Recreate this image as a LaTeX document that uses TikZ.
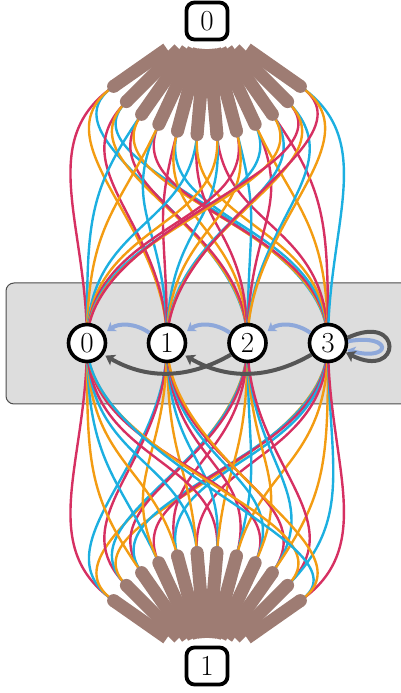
\documentclass[tikz,border=0pt]{standalone}
\usepackage{fontspec}
\usetikzlibrary{arrows.meta,calc}
\definecolor{cred}{RGB}{214,48,98}
\definecolor{cblue}{RGB}{28,175,224}
\definecolor{corange}{RGB}{243,156,18}
\definecolor{cbrown}{RGB}{158,124,115}
\definecolor{cdark}{RGB}{85,85,85}
\definecolor{clight}{RGB}{142,168,218}
\definecolor{cbox}{RGB}{221,221,221}
\colorlet{lc0}{cred}
\colorlet{lc1}{cblue}
\colorlet{lc2}{corange}
\pgfdeclarelayer{bg}
\pgfdeclarelayer{lines}
\pgfdeclarelayer{fan}
\pgfsetlayers{bg,lines,fan,main}
\begin{document}
\begin{tikzpicture}[x=1pt,y=1pt,
  state/.style={circle,draw=black,fill=white,line width=3.6pt,minimum size=37pt,inner sep=0pt,font=\fontsize{29}{29}\selectfont},
  term/.style={rectangle,rounded corners=8pt,draw=black,fill=white,line width=3.8pt,minimum width=41pt,minimum height=37pt,inner sep=0pt,font=\fontsize{29}{29}\selectfont},
  finger/.style={line width=13pt,draw=cbrown},
  wire/.style={line width=2.4pt},
  lbarrow/.style={draw=clight,line width=4pt,-{Stealth[length=8pt,width=11pt,inset=2pt]}},
  dgarrow/.style={draw=cdark,line width=4pt,-{Stealth[length=9pt,width=12pt,inset=2pt]}},
  panel/.style={fill=cbox,draw=black!70,line width=1pt,rounded corners=8pt}
]
\useasboundingbox (0,0) rectangle (401,693);
\node[term] (top) at (207,672) {0};
\node[term] (bot) at (207,27) {1};
\foreach \j/\x in {0/87,1/167,2/247.5,3/328}{\node[state] (m\j) at (\x,350) {\j};}
\foreach \i in {0,...,11}{
  \pgfmathsetmacro{\tha}{-145+10*\i}
  \pgfmathsetmacro{\thb}{145-10*\i}
  \coordinate (tt\i) at ($(top.center)+(\tha:114)$);
  \coordinate (bt\i) at ($(bot.center)+(\thb:114)$);
}
\begin{pgfonlayer}{bg}
\path[panel] (6,289) rectangle (440,410);
\end{pgfonlayer}
\begin{pgfonlayer}{lines}
\foreach \i in {0,...,11}{
  \foreach \c/\s/\t in {0/0/0,1/2/1,2/1/2}{
    \pgfmathtruncatemacro{\j}{mod(\i+\s+floor(\i/4),4)}
    \pgfmathtruncatemacro{\k}{mod(\i+\t+2*floor(\i/4),4)}
    \pgfmathsetmacro{\tha}{-145+10*\i}
    \pgfmathsetmacro{\thb}{145-10*\i}
    \draw[wire,color=lc\c] (tt\i) .. controls +(\tha:95) and +(0,120) .. (m\j.center);
    \draw[wire,color=lc\c] (bt\i) .. controls +(\thb:95) and +(0,-120) .. (m\k.center);
  }
}
\end{pgfonlayer}
\begin{pgfonlayer}{fan}
\foreach \i in {0,...,11}{
  \pgfmathsetmacro{\tha}{-145+10*\i}
  \pgfmathsetmacro{\thb}{145-10*\i}
  \pgfmathsetmacro{\ra}{28/abs(sin(\tha))}
  \draw[finger] ($(top.center)+(\tha:\ra)$) -- (tt\i);
  \fill[cbrown] (tt\i) circle (6.5);
  \draw[finger] ($(bot.center)+(\thb:\ra)$) -- (bt\i);
  \fill[cbrown] (bt\i) circle (6.5);
}
\end{pgfonlayer}
\draw[lbarrow,shorten >=3pt] (m1.150) to[bend right=35] (m0.30);
\draw[lbarrow,shorten >=3pt] (m2.150) to[bend right=35] (m1.30);
\draw[lbarrow,shorten >=3pt] (m3.150) to[bend right=35] (m2.30);
\draw[lbarrow] (m3.5) .. controls +(45,8) and +(45,-12) .. (m3.-20);
\draw[dgarrow,shorten >=2pt] (m2.215) to[bend left=30] (m0.-35);
\draw[dgarrow,shorten >=2pt] (m3.215) to[bend left=30] (m1.-35);
\draw[dgarrow] (m3.15) .. controls +(56,26) and +(56,-28) .. (m3.-28);
\end{tikzpicture}
\end{document}
